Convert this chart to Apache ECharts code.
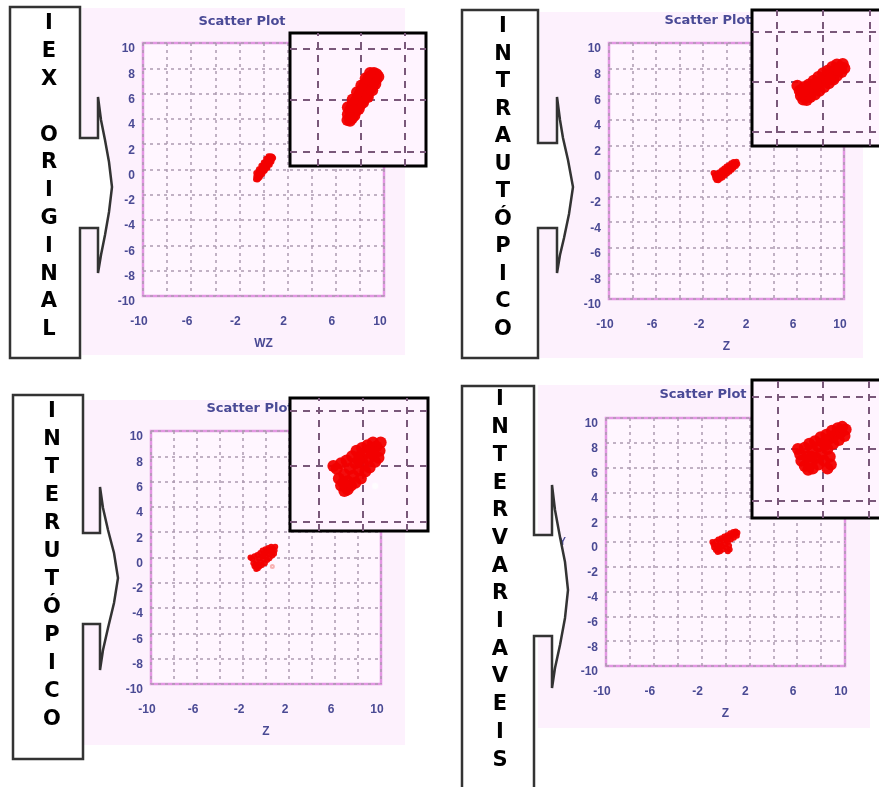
<!DOCTYPE html>
<html><head><meta charset="utf-8">
<script src="https://cdn.jsdelivr.net/npm/echarts@6/dist/echarts.min.js"></script>
<style>html,body{margin:0;padding:0;background:#fff}#c{width:879px;height:787px}</style>
</head><body><div id="c"></div>
<script>
// ---------- data ----------
const panelLabels = ['IEX ORIGINAL', 'INTRAUTÓPICO', 'INTERUTÓPICO', 'INTERVARIAVEIS'];
const chartTitle = 'Scatter Plot';
const xAxisNames = ['WZ', 'Z', 'Z', 'Z'];
const yAxisNames = ['Y', 'Y', 'Y', 'Y'];
const axisMin = -10, axisMax = 10, axisStep = 2, xLabelStep = 4;
const insetGridValues = [-2, 0, 2];

const cluster1 = [
  [-0.62,-0.78],[-0.5,-0.8],[-0.45,-0.6],[-0.6,-0.55],[-0.35,-0.5],[-0.5,-0.4],[-0.3,-0.3],[-0.4,-0.2],
  [-0.2,-0.25],[-0.25,-0.05],[-0.1,-0.1],[-0.15,0.1],[0.0,0.05],[-0.05,0.25],[0.1,0.2],[0.05,0.4],
  [0.2,0.35],[0.15,0.55],[0.3,0.5],[0.25,0.7],[0.4,0.65],[0.35,0.85],[0.5,0.8],[0.5,0.95],
  [0.62,0.9],[0.6,1.05],[0.72,1.0],[0.7,0.8],[0.55,0.6],[0.45,0.45],[0.3,0.2],[0.12,0.0],
  [-0.05,-0.2],[-0.25,-0.45],[-0.4,-0.7],[-0.2,0.0],[0.0,0.3],[0.2,0.6],[0.4,0.9],
  [-0.3,-0.6],[-0.1,-0.35],[0.1,-0.1],[0.32,0.12],[0.52,0.38],[0.66,0.62],[0.8,0.9],
  [-0.6,-0.28],[-0.38,0.02],[-0.18,0.3],[0.02,0.56],[0.22,0.84],[0.42,1.05]
];
const cluster2 = [
  [-1.1,-0.15],[-1.0,-0.35],[-0.95,-0.55],[-0.85,-0.7],[-0.7,-0.72],[-0.8,-0.2],[-0.65,-0.45],[-0.55,-0.6],
  [-0.6,-0.1],[-0.45,-0.3],[-0.35,-0.5],[-0.4,0.05],[-0.25,-0.15],[-0.15,-0.35],[-0.2,0.2],[-0.05,0.0],
  [0.05,-0.2],[0.0,0.35],[0.15,0.15],[0.25,-0.05],[0.2,0.45],[0.35,0.3],[0.45,0.1],[0.4,0.6],
  [0.55,0.45],[0.6,0.25],[0.6,0.7],[0.75,0.6],[0.8,0.4],[0.85,0.72],[0.92,0.55],[-0.9,-0.4],
  [-0.3,-0.05],[0.3,0.1],[0.7,0.5]
];
const cluster3 = [
  [-1.35,0.0],[-1.2,-0.1],[-1.1,-0.45],[-1.0,-0.7],[-0.85,-0.9],[-0.7,-0.85],[-1.0,0.1],[-0.85,-0.3],
  [-0.7,-0.55],[-0.55,-0.7],[-0.75,0.2],[-0.6,-0.1],[-0.45,-0.35],[-0.35,-0.6],[-0.5,0.35],[-0.35,0.1],
  [-0.2,-0.15],[-0.1,-0.45],[-0.3,0.55],[-0.15,0.35],[0.0,0.1],[0.1,-0.2],[-0.05,0.65],[0.1,0.45],
  [0.25,0.25],[0.3,-0.05],[0.2,0.75],[0.35,0.6],[0.5,0.4],[0.55,0.15],[0.45,0.85],[0.6,0.7],
  [0.75,0.55],[0.8,0.85],[0.7,0.3],[-0.9,-0.6],[-0.2,0.2],[0.4,0.45]
];
const cluster3Outliers = [[0.55,-0.72]];
const cluster4 = [
  [-1.1,0.0],[-1.0,-0.2],[-0.95,-0.45],[-0.8,-0.65],[-0.65,-0.8],[-0.8,0.05],[-0.7,-0.3],[-0.55,-0.55],
  [-0.45,-0.75],[-0.6,0.2],[-0.45,-0.05],[-0.3,-0.35],[-0.2,-0.6],[-0.35,0.3],[-0.2,0.1],[-0.05,-0.2],
  [0.05,-0.45],[-0.1,0.45],[0.05,0.25],[0.2,0.0],[0.3,-0.3],[0.35,-0.6],[0.15,0.55],[0.3,0.4],
  [0.45,0.2],[0.4,0.7],[0.55,0.55],[0.7,0.35],[0.65,0.8],[0.8,0.65],[0.95,0.5],[1.0,0.75],
  [0.85,0.85],[0.2,-0.75],[-0.5,-0.3],[0.1,0.15]
];
const clusters = [cluster1, cluster2, cluster3, cluster4];
const outliers = [[], [], cluster3Outliers, []];

// ---------- layout ----------
const layout = [
  { bg:[82,8,323,347], plot:{left:143,top:43,width:241,height:253}, title:[242,22],
    inset:{left:290,top:33,width:136,height:133,x:[-3.26,2.99],y:[-2.56,2.6]},
    letters:{x:49,y0:24,step:27.8},
    shape:[[80,138],[80,7],[10,7],[10,358],[80,358],[80,228],[98,228],[98,273],[101,255],[105,235],[109,212],[112,187],[109,162],[105,140],[101,120],[98,97],[98,138]] },
  { bg:[540,12,323,346], plot:{left:609,top:43,width:235,height:256}, title:[708,21],
    inset:{left:752,top:10,width:138,height:136,x:[-3.05,2.88],y:[-2.56,2.88]},
    letters:{x:503,y0:27,step:27.5},
    shape:[[538,143],[538,10],[462,10],[462,358],[538,358],[538,228],[557,228],[557,273],[560,255],[564,238],[569,214],[573,187],[568,160],[563,138],[560,120],[557,97],[557,143]] },
  { bg:[83,400,322,345], plot:{left:151,top:431,width:230,height:253}, title:[250,409],
    inset:{left:290,top:398,width:138,height:133,x:[-3.32,2.95],y:[-2.34,2.45]},
    letters:{x:52,y0:412,step:28},
    shape:[[83,533],[83,395],[13,395],[13,759],[83,759],[83,624],[100,624],[100,670],[103,650],[108,628],[114,603],[118,578],[114,553],[108,530],[103,508],[100,487],[100,533]] },
  { bg:[538,385,332,343], plot:{left:606,top:418,width:239,height:248}, title:[703,395],
    inset:{left:752,top:380,width:138,height:138,x:[-3.12,2.95],y:[-2.65,2.65]},
    letters:{x:500,y0:400,step:27.7},
    shape:[[534,535],[534,386],[462,386],[462,800],[534,800],[534,636],[552,636],[552,688],[555,668],[560,645],[565,618],[568,590],[565,562],[560,537],[555,510],[552,485],[552,535]] }
];

const labelColor = '#4a4a94';
const gridLineColor = '#ad9bb1';
const grids = [], xAxes = [], yAxes = [], series = [], elements = [];

layout.forEach((L, i) => {
  elements.push({ type:'rect', z:0, silent:true,
    shape:{x:L.bg[0], y:L.bg[1], width:L.bg[2], height:L.bg[3]},
    style:{fill:'#fdf1fd'} });
  elements.push({ type:'text', z:3, silent:true, x:L.title[0], y:L.title[1],
    style:{text:chartTitle, fill:'#4a4a96', font:'bold 13px "DejaVu Sans"', align:'center', verticalAlign:'middle'} });

  // main grid
  const gi = grids.length;
  grids.push({ left:L.plot.left, top:L.plot.top, width:L.plot.width, height:L.plot.height,
    show:true, backgroundColor:'#fff6ff', borderColor:'#e396e3', borderWidth:2.5, z:1, outerBoundsMode:'none' });
  xAxes.push({ gridIndex:gi, type:'value', min:axisMin, max:axisMax, interval:axisStep, z:1,
    name:xAxisNames[i], nameLocation:'middle', nameGap:42,
    nameTextStyle:{color:labelColor, fontSize:12, fontWeight:'bold', fontFamily:'Liberation Sans'},
    axisLine:{show:false}, axisTick:{show:false},
    axisLabel:{color:labelColor, fontSize:12, fontWeight:'bold', fontFamily:'Liberation Sans', margin:20, padding:[0,8,0,0],
      formatter: v => ((v - axisMin) % xLabelStep === 0 ? String(v) : '')},
    splitLine:{show:true, lineStyle:{color:gridLineColor, width:1.5, type:[3,4]}} });
  yAxes.push({ gridIndex:gi, type:'value', min:axisMin, max:axisMax, interval:axisStep, z:1,
    name:yAxisNames[i], nameLocation:'middle', nameGap:40, nameRotate:0,
    nameTextStyle:{color:labelColor, fontSize:10, fontWeight:'bold', fontFamily:'Liberation Sans'},
    axisLine:{show:false}, axisTick:{show:false},
    axisLabel:{color:labelColor, fontSize:12, fontWeight:'bold', fontFamily:'Liberation Sans', margin:8, verticalAlign:'top'},
    splitLine:{show:true, lineStyle:{color:gridLineColor, width:1.5, type:[3,4]}} });
  series.push({ type:'scatter', xAxisIndex:gi, yAxisIndex:gi, z:2, data:clusters[i],
    symbolSize:6, itemStyle:{color:'#f20000', opacity:0.95}, silent:true, animation:false });
  if (outliers[i].length) series.push({ type:'scatter', xAxisIndex:gi, yAxisIndex:gi, z:2, data:outliers[i],
    symbol:'emptyCircle', symbolSize:3, itemStyle:{color:'#f5a0a0', borderColor:'#f07070', borderWidth:1}, silent:true, animation:false });

  // inset (zoom) grid
  const ii = grids.length;
  const I = L.inset;
  grids.push({ left:I.left, top:I.top, width:I.width, height:I.height,
    show:true, backgroundColor:'#fff4ff', borderColor:'#000', borderWidth:3, z:5, outerBoundsMode:'none' });
  xAxes.push({ gridIndex:ii, type:'value', min:I.x[0], max:I.x[1], show:false, z:5, splitLine:{show:false} });
  yAxes.push({ gridIndex:ii, type:'value', min:I.y[0], max:I.y[1], show:false, z:5, splitLine:{show:false} });
  series.push({ type:'scatter', xAxisIndex:ii, yAxisIndex:ii, z:6, data:clusters[i],
    symbolSize:12, itemStyle:{color:'#f20000', opacity:0.95}, silent:true, animation:false,
    markLine:{ silent:true, symbol:['none','none'], label:{show:false}, animation:false, z:5,
      lineStyle:{color:'#7a587a', width:2, type:[7,6]}, emphasis:{disabled:true},
      data: insetGridValues.flatMap(v => [{xAxis:v}, {yAxis:v}]) } });
  if (outliers[i].length) series.push({ type:'scatter', xAxisIndex:ii, yAxisIndex:ii, z:7, data:outliers[i],
    symbol:'emptyCircle', symbolSize:8, itemStyle:{color:'#fff4ff', borderColor:'#f06060', borderWidth:2}, silent:true, animation:false });

  // label box with callout
  elements.push({ type:'polygon', z:8, silent:true, shape:{points:L.shape},
    style:{fill:'#ffffff', stroke:'#333333', lineWidth:2.5} });
  Array.from(panelLabels[i]).forEach((ch, k) => {
    if (ch === ' ') return;
    elements.push({ type:'text', z:9, silent:true, x:L.letters.x, y:L.letters.y0 + k*L.letters.step,
      style:{text:ch, fill:'#000', font:'bold 21px "DejaVu Sans"', align:'center', verticalAlign:'middle'} });
  });
});

const chart = echarts.init(document.getElementById('c'), null, {renderer:'canvas'});
chart.setOption({
  animation:false,
  backgroundColor:'#ffffff',
  grid:grids, xAxis:xAxes, yAxis:yAxes, series:series,
  graphic:{elements:elements}
});
</script></body></html>
